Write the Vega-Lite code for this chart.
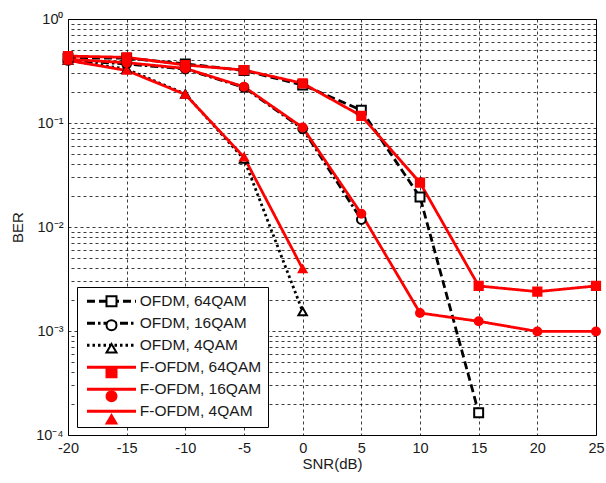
{
  "$schema": "https://vega.github.io/schema/vega-lite/v6.json",
  "width": 528,
  "height": 416,
  "autosize": {"type": "none"},
  "padding": {"left": 68, "top": 19, "right": 10, "bottom": 48},
  "background": "white",
  "config": {
    "font": "Liberation Sans",
    "view": {"stroke": "#000", "strokeWidth": 1},
    "legend": {"symbolFillColor": "#ffffff"},
    "axis": {
      "domain": false,
      "ticks": false,
      "grid": true,
      "gridColor": "#000",
      "gridDash": [3, 3],
      "gridWidth": 0.9,
      "gridOpacity": 0.85,
      "labelFontSize": 14.5,
      "labelColor": "#1a1a1a",
      "labelOverlap": false,
      "labelFlush": false,
      "labelBound": false,
      "titleFontSize": 15,
      "titleFontWeight": "normal",
      "titleColor": "#1a1a1a"
    }
  },
  "data": {
    "values": [
      {"snr": -20, "ber": 0.42, "series": "OFDM, 64QAM"},
      {"snr": -15, "ber": 0.42, "series": "OFDM, 64QAM"},
      {"snr": -10, "ber": 0.37, "series": "OFDM, 64QAM"},
      {"snr": -5, "ber": 0.32, "series": "OFDM, 64QAM"},
      {"snr": 0, "ber": 0.232, "series": "OFDM, 64QAM"},
      {"snr": 5, "ber": 0.133, "series": "OFDM, 64QAM"},
      {"snr": 10, "ber": 0.0194, "series": "OFDM, 64QAM"},
      {"snr": 15, "ber": 0.000164, "series": "OFDM, 64QAM"},

      {"snr": -20, "ber": 0.4, "series": "OFDM, 16QAM"},
      {"snr": -15, "ber": 0.37, "series": "OFDM, 16QAM"},
      {"snr": -10, "ber": 0.33, "series": "OFDM, 16QAM"},
      {"snr": -5, "ber": 0.22, "series": "OFDM, 16QAM"},
      {"snr": 0, "ber": 0.088, "series": "OFDM, 16QAM"},
      {"snr": 5, "ber": 0.0118, "series": "OFDM, 16QAM"},

      {"snr": -20, "ber": 0.4, "series": "OFDM, 4QAM"},
      {"snr": -15, "ber": 0.33, "series": "OFDM, 4QAM"},
      {"snr": -10, "ber": 0.19, "series": "OFDM, 4QAM"},
      {"snr": -5, "ber": 0.045, "series": "OFDM, 4QAM"},
      {"snr": 0, "ber": 0.00154, "series": "OFDM, 4QAM"},

      {"snr": -20, "ber": 0.44, "series": "F-OFDM, 64QAM"},
      {"snr": -15, "ber": 0.428, "series": "F-OFDM, 64QAM"},
      {"snr": -10, "ber": 0.361, "series": "F-OFDM, 64QAM"},
      {"snr": -5, "ber": 0.323, "series": "F-OFDM, 64QAM"},
      {"snr": 0, "ber": 0.241, "series": "F-OFDM, 64QAM"},
      {"snr": 5, "ber": 0.117, "series": "F-OFDM, 64QAM"},
      {"snr": 10, "ber": 0.0267, "series": "F-OFDM, 64QAM"},
      {"snr": 15, "ber": 0.00271, "series": "F-OFDM, 64QAM"},
      {"snr": 20, "ber": 0.00239, "series": "F-OFDM, 64QAM"},
      {"snr": 25, "ber": 0.00271, "series": "F-OFDM, 64QAM"},

      {"snr": -20, "ber": 0.41, "series": "F-OFDM, 16QAM"},
      {"snr": -15, "ber": 0.38, "series": "F-OFDM, 16QAM"},
      {"snr": -10, "ber": 0.335, "series": "F-OFDM, 16QAM"},
      {"snr": -5, "ber": 0.223, "series": "F-OFDM, 16QAM"},
      {"snr": 0, "ber": 0.0905, "series": "F-OFDM, 16QAM"},
      {"snr": 5, "ber": 0.0134, "series": "F-OFDM, 16QAM"},
      {"snr": 10, "ber": 0.00149, "series": "F-OFDM, 16QAM"},
      {"snr": 15, "ber": 0.00124, "series": "F-OFDM, 16QAM"},
      {"snr": 20, "ber": 0.00099, "series": "F-OFDM, 16QAM"},
      {"snr": 25, "ber": 0.00099, "series": "F-OFDM, 16QAM"},

      {"snr": -20, "ber": 0.4, "series": "F-OFDM, 4QAM"},
      {"snr": -15, "ber": 0.32, "series": "F-OFDM, 4QAM"},
      {"snr": -10, "ber": 0.188, "series": "F-OFDM, 4QAM"},
      {"snr": -5, "ber": 0.047, "series": "F-OFDM, 4QAM"},
      {"snr": 0, "ber": 0.00396, "series": "F-OFDM, 4QAM"}
    ]
  },
  "encoding": {
    "x": {
      "field": "snr",
      "type": "quantitative",
      "scale": {"domain": [-20, 25], "nice": false},
      "axis": {
        "values": [-20, -15, -10, -5, 0, 5, 10, 15, 20, 25],
        "labelExpr": "'' + datum.value",
        "title": "SNR(dB)",
        "labelPadding": 6,
        "titlePadding": 2
      }
    }
  },
  "resolve": {"axis": {"y": "independent"}},
  "layer": [
    {
      "mark": {"type": "line"},
      "encoding": {
        "y": {
          "field": "ber",
          "type": "quantitative",
          "scale": {"type": "log", "domain": [0.0001, 1], "nice": false},
          "axis": {
            "values": [0.0001, 0.001, 0.01, 0.1, 1],
            "labelExpr": "datum.value == 1 ? '10⁰' : datum.value == 0.1 ? '10⁻¹' : datum.value == 0.01 ? '10⁻²' : datum.value == 0.001 ? '10⁻³' : '10⁻⁴'",
            "title": "BER",
            "labelPadding": 5,
            "titlePadding": 10
          }
        },
        "color": {
          "field": "series",
          "type": "nominal",
          "scale": {
            "domain": ["OFDM, 64QAM", "OFDM, 16QAM", "OFDM, 4QAM", "F-OFDM, 64QAM", "F-OFDM, 16QAM", "F-OFDM, 4QAM"],
            "range": ["#000000", "#000000", "#000000", "#ff0000", "#ff0000", "#ff0000"]
          },
          "legend": {
            "title": null,
            "orient": "none",
            "legendX": 9,
            "legendY": 268,
            "padding": 6.5,
            "symbolType": "M-4.9,0H4.9",
            "symbolSize": 100,
            "symbolOffset": 20.25,
            "labelOffset": 20.5,
            "labelAlign": "left",
            "labelFontSize": 15.5,
            "labelColor": "#1a1a1a",
            "labelLimit": 300,
            "rowPadding": 5,
            "strokeColor": "#000",
            "fillColor": "#fff",
            "zindex": 0
          }
        },
        "strokeDash": {
          "field": "series",
          "type": "nominal",
          "scale": {
            "domain": ["OFDM, 64QAM", "OFDM, 16QAM", "OFDM, 4QAM", "F-OFDM, 64QAM", "F-OFDM, 16QAM", "F-OFDM, 4QAM"],
            "range": [[8, 4], [8, 3, 2.5, 3], [2.5, 3], [1, 0], [1, 0], [1, 0]]
          }
        },
        "strokeWidth": {
          "field": "series",
          "type": "ordinal",
          "scale": {
            "domain": ["OFDM, 64QAM", "OFDM, 16QAM", "OFDM, 4QAM", "F-OFDM, 64QAM", "F-OFDM, 16QAM", "F-OFDM, 4QAM"],
            "range": [2.8, 2.8, 2.8, 1.8, 1.3, 1.2]
          }
        }
      }
    },
    {
      "transform": [{"calculate": "datum.series", "as": "marker"}],
      "mark": {"type": "point", "filled": true, "strokeWidth": 2, "opacity": 1},
      "encoding": {
        "y": {
          "field": "ber",
          "type": "quantitative",
          "axis": {
            "orient": "right",
            "grid": true,
            "values": [0.0002, 0.0003, 0.0004, 0.0005, 0.0006, 0.0007, 0.0008, 0.0009,
                       0.002, 0.003, 0.004, 0.005, 0.006, 0.007, 0.008, 0.009,
                       0.02, 0.03, 0.04, 0.05, 0.06, 0.07, 0.08, 0.09,
                       0.2, 0.3, 0.4, 0.5, 0.6, 0.7, 0.8, 0.9],
            "labels": false,
            "title": null
          }
        },
        "shape": {
          "field": "marker",
          "type": "nominal",
          "sort": ["OFDM, 64QAM", "OFDM, 16QAM", "OFDM, 4QAM", "F-OFDM, 64QAM", "F-OFDM, 16QAM", "F-OFDM, 4QAM"],
          "scale": {
            "range": ["square", "circle", "triangle-up", "square", "circle", "triangle-up"]
          },
          "legend": {
            "title": null,
            "orient": "none",
            "legendX": 9,
            "legendY": 268,
            "padding": 6.5,
            "symbolSize": 100,
            "symbolStrokeWidth": 2,
            "symbolFillColor": {"expr": "indexof(['OFDM, 64QAM', 'OFDM, 16QAM', 'OFDM, 4QAM'], datum.value) >= 0 ? '#ffffff' : '#ff0000'"},
            "symbolStrokeColor": {"expr": "indexof(['OFDM, 64QAM', 'OFDM, 16QAM', 'OFDM, 4QAM'], datum.value) >= 0 ? '#000000' : '#ff0000'"},
            "symbolOffset": 20.25,
            "labelOffset": 20.5,
            "labelFontSize": 15.5,
            "labelOpacity": 0,
            "labelLimit": 300,
            "rowPadding": 5,
            "zindex": 1
          }
        },
        "fill": {
          "field": "marker",
          "type": "nominal",
          "sort": ["OFDM, 64QAM", "OFDM, 16QAM", "OFDM, 4QAM", "F-OFDM, 64QAM", "F-OFDM, 16QAM", "F-OFDM, 4QAM"],
          "scale": {
            "range": ["#ffffff", "#ffffff", "#ffffff", "#ff0000", "#ff0000", "#ff0000"]
          }
        },
        "stroke": {
          "field": "marker",
          "type": "nominal",
          "sort": ["OFDM, 64QAM", "OFDM, 16QAM", "OFDM, 4QAM", "F-OFDM, 64QAM", "F-OFDM, 16QAM", "F-OFDM, 4QAM"],
          "scale": {
            "range": ["#000000", "#000000", "#000000", "#ff0000", "#ff0000", "#ff0000"]
          }
        },
        "size": {
          "field": "marker",
          "type": "ordinal",
          "sort": ["OFDM, 64QAM", "OFDM, 16QAM", "OFDM, 4QAM", "F-OFDM, 64QAM", "F-OFDM, 16QAM", "F-OFDM, 4QAM"],
          "scale": {
            "range": [80, 60, 130, 120, 80, 130]
          },
          "legend": null
        }
      }
    }
  ]
}
